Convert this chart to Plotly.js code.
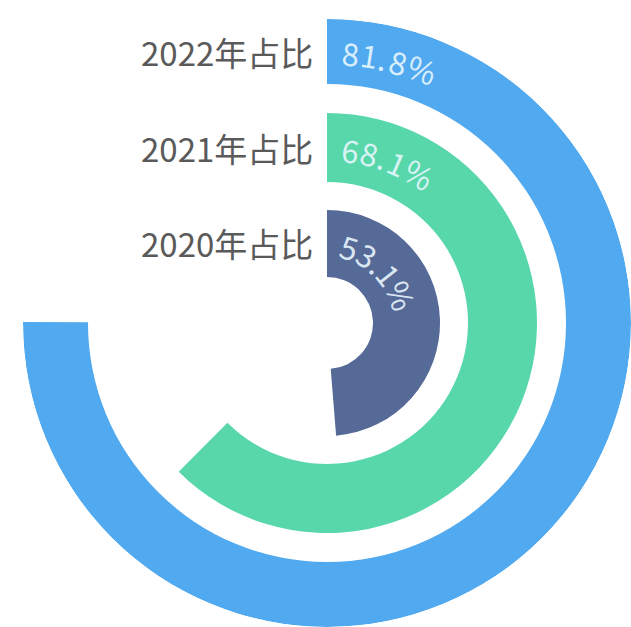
<!DOCTYPE html>
<html>
<head>
<meta charset="utf-8">
<script src="https://cdn.plot.ly/plotly-3.0.1.min.js"></script>
<style>html,body{margin:0;padding:0;background:#fff;}#chart{width:631px;height:627px;}</style>
</head>
<body>
<div id="chart"></div>
<script>
// ---- data ----
const years = ['2020', '2021', '2022'];
const shares = [53.1, 68.1, 81.8];           // percent
const yearLabels = ['2020年占比', '2021年占比', '2022年占比'];
const valueLabels = ['53.1%', '68.1%', '81.8%'];
const colors = ['#566a97', '#58d7ab', '#51a9ef'];
const angularMax = 109; // value that corresponds to a full circle

// ---- geometry (pixels) ----
const W = 631, H = 627;
const cx = 327, cy = 323, R = 304;
const ringBase = [46, 141, 239];
const ringWidth = [67, 69, 65];
const FONT = 'Noto Sans CJK SC';
const valSize = 31;
const spacing = 2;

const traces = years.map((y, i) => {
  const span = shares[i] * 360 / angularMax;
  return {
    type: 'barpolar',
    name: y,
    theta: [span / 2],
    width: [span],
    base: [ringBase[i]],
    r: [ringWidth[i]],
    marker: {color: colors[i], line: {width: 0}},
    hoverinfo: 'skip',
    showlegend: false
  };
});

// measure glyph widths to lay value text along the arc
const ctx = document.createElement('canvas').getContext('2d');
ctx.font = valSize + 'px "' + FONT + '"';

const annotations = [];
years.forEach((y, i) => {
  const rMid = ringBase[i] + ringWidth[i] / 2;
  annotations.push({
    xref: 'paper', yref: 'paper',
    x: 315 / W, y: 1 - (cy - rMid) / H,
    xanchor: 'right', yanchor: 'middle',
    text: yearLabels[i], showarrow: false,
    font: {family: FONT, size: 33, color: '#5a5a5a'}
  });
  const chars = Array.from(valueLabels[i]);
  const widths = chars.map(c => ctx.measureText(c).width + spacing);
  const total = widths.reduce((a, b) => a + b, 0);
  let s = 63 - total / 2; // arc length from top at which text starts
  chars.forEach((c, k) => {
    const phi = (s + widths[k] / 2) / rMid;
    s += widths[k];
    const px = cx + rMid * Math.sin(phi);
    const py = cy - rMid * Math.cos(phi);
    annotations.push({
      xref: 'paper', yref: 'paper',
      x: px / W, y: 1 - py / H,
      xanchor: 'center', yanchor: 'middle',
      text: c, showarrow: false,
      textangle: phi * 180 / Math.PI,
      font: {family: FONT, size: valSize, color: 'rgba(235,248,255,0.9)'}
    });
  });
});

const layout = {
  width: W, height: H,
  margin: {l: 0, r: 0, t: 0, b: 0},
  paper_bgcolor: '#ffffff',
  showlegend: false,
  polar: {
    domain: {x: [(cx - R) / W, (cx + R) / W], y: [1 - (cy + R) / H, 1 - (cy - R) / H]},
    bgcolor: 'rgba(0,0,0,0)',
    barmode: 'overlay',
    radialaxis: {range: [0, R], visible: false, showgrid: false, showline: false, showticklabels: false, ticks: ''},
    angularaxis: {rotation: 90, direction: 'clockwise', visible: false, showgrid: false, showline: false, showticklabels: false, ticks: ''}
  },
  annotations: annotations
};

Plotly.newPlot('chart', traces, layout, {displayModeBar: false, staticPlot: true});
</script>
</body>
</html>
